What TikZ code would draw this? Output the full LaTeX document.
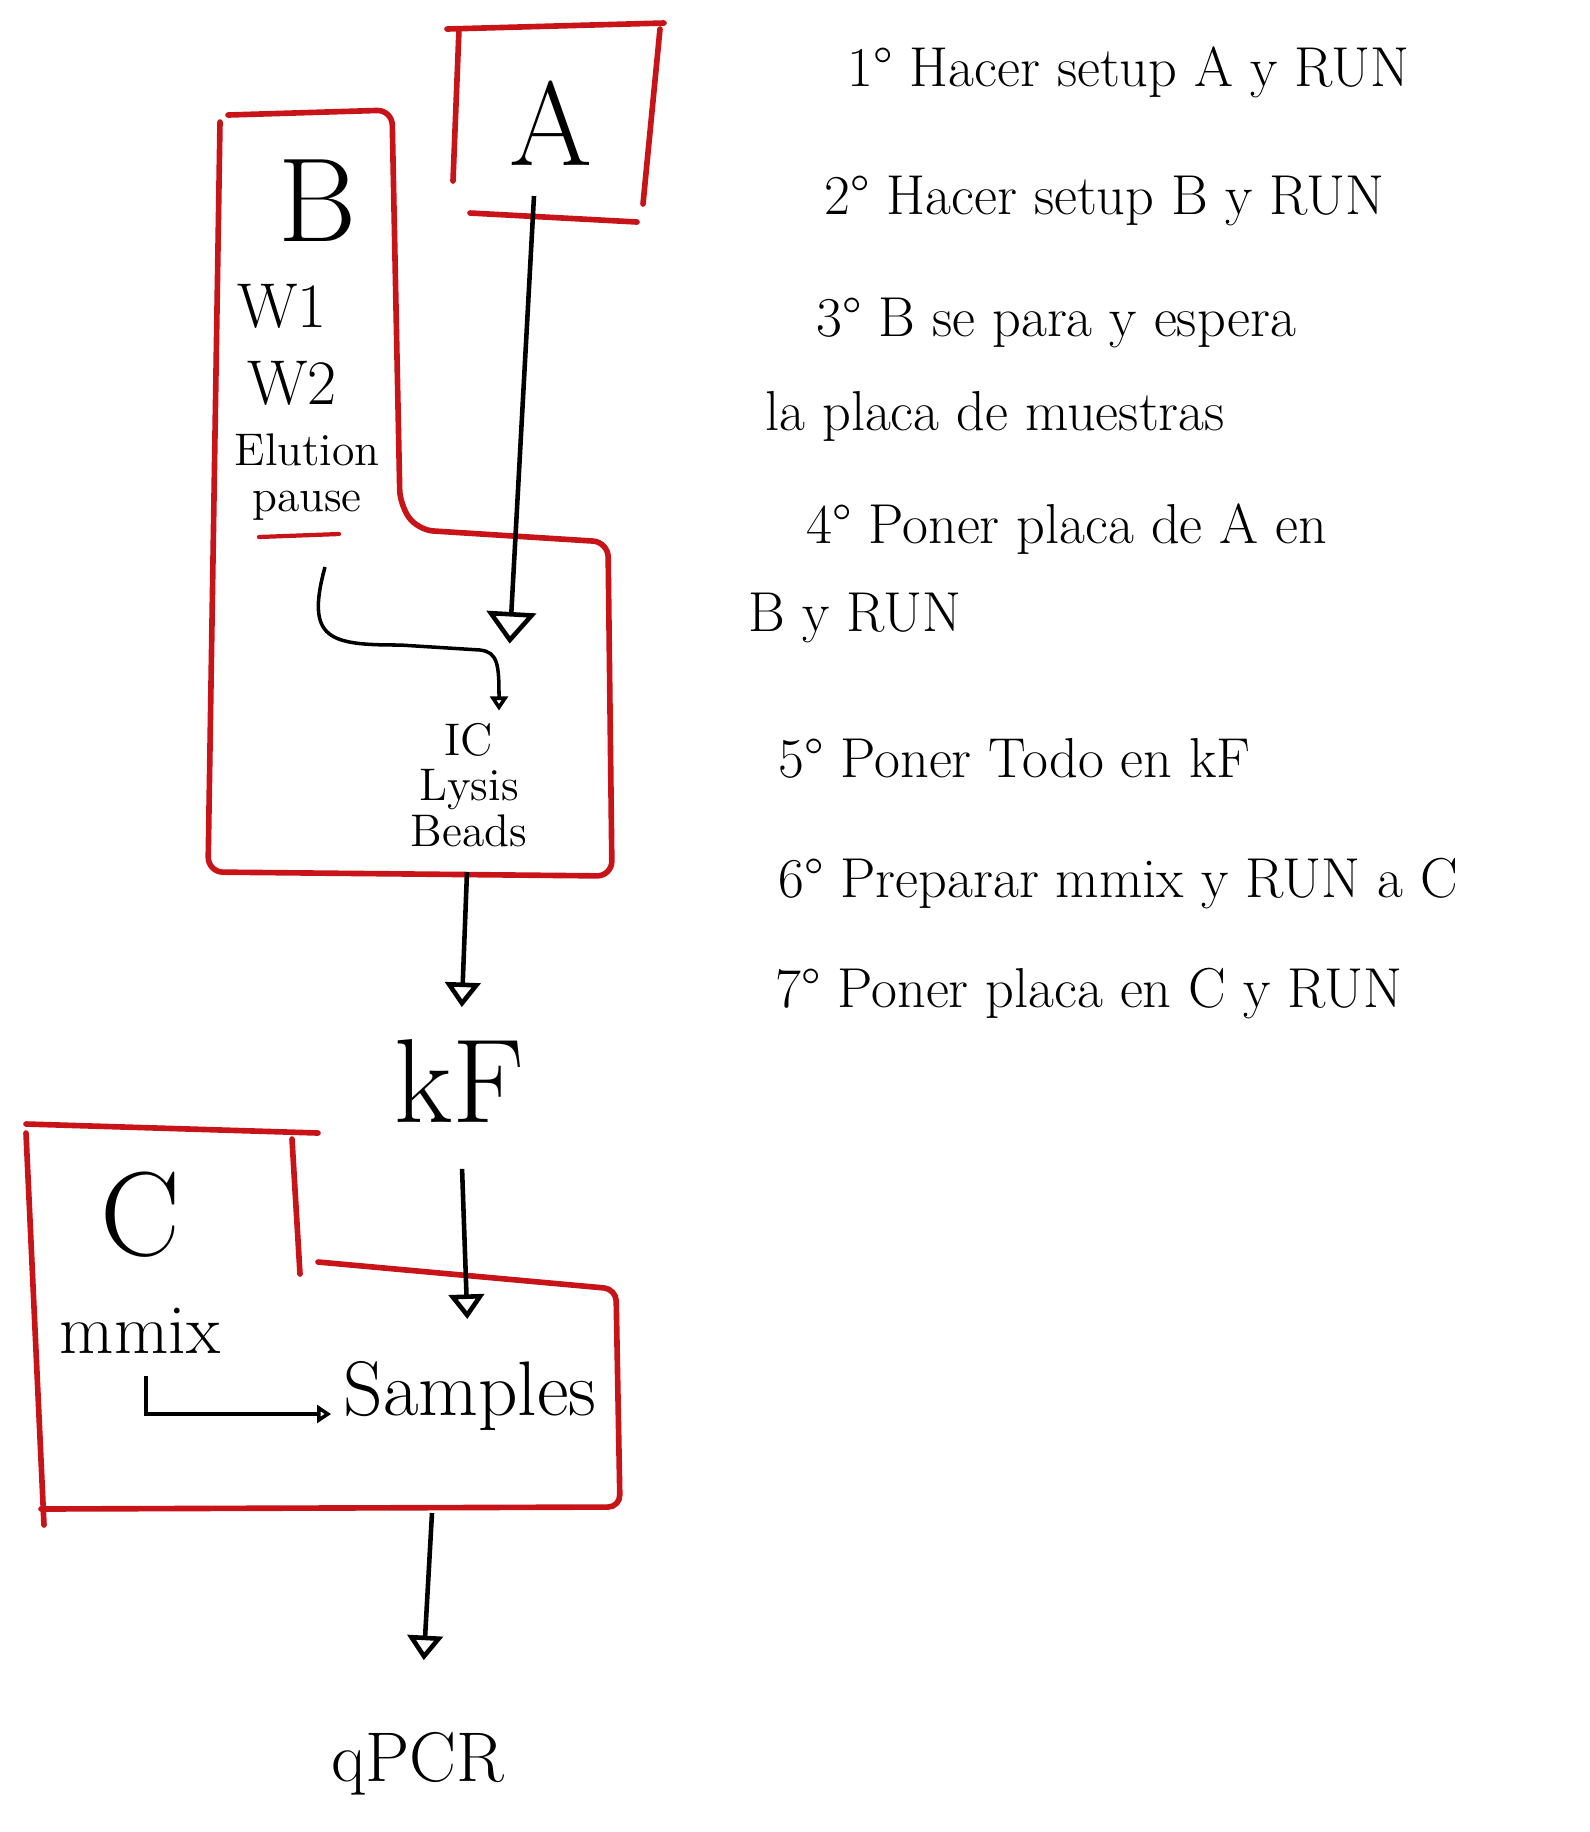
\documentclass[tikz,border=0pt]{standalone}
\usetikzlibrary{arrows.meta}
\definecolor{penred}{RGB}{200,20,25}

\begin{document}
\begin{tikzpicture}[
  x=0.01cm, y=-0.01cm,
  redline/.style={draw=penred, line width=1.6pt, line cap=round},
  flow/.style={line width=1.3pt, -{Triangle[open, length=7pt, width=10pt]}},
  bigflow/.style={line width=1.3pt, -{Triangle[open, length=9pt, width=14pt]}},
  tinyflow/.style={line width=1pt, -{Triangle[open, length=4pt, width=5pt]}},
  boxname/.style={font=\fontsize{34}{40}\selectfont},
  item/.style={font=\fontsize{18}{22}\selectfont},
  small/.style={font=\fontsize{13}{13}\selectfont},
  note/.style={anchor=base west, font=\fontsize{16}{19}\selectfont},
]
\useasboundingbox (0,0) rectangle (1590,1832);

% machine A
\draw[redline] (447,29) -- (664,23);
\draw[redline] (459,29) -- (453,181);
\draw[redline] (660,29) -- (643,204);
\draw[redline] (470,213) -- (637,222);
\node[boxname] (a) at (551,123) {A};

% machine B
\draw[redline, rounded corners=0.15cm] (228,115) -- (392,110) -- (400,505) -- (418,530) -- (608,542) -- (612,876) -- (208,872) -- (220,122);
\node[boxname] (b) at (318,201) {B};
\node[item] (w1) at (282,306) {W1};
\node[item] (w2) at (292,383) {W2};
\node[small] (elution) at (307,450) {Elution};
\node[small] (pause) at (307,506) {pause};
\draw[redline, line width=1.2pt] (259,537) -- (339,534);
\node[small, align=center] (plate) at (469,785) {IC\\Lysis\\Beads};

\coordinate (a-out) at (534,196);
\coordinate (pause-out) at (325,567);
\coordinate (b-out) at (467,872);
\draw[bigflow, shorten >=0.67cm] (a-out) -- ([xshift=0.37cm]plate.north);
\draw[tinyflow] (pause-out) .. controls (305,640) and (330,645) .. (400,645) -- (480,650) .. controls (498,652) and (499,665) .. ([xshift=0.3cm]plate.north);

% KingFisher
\node[boxname] (kf) at (459,1081) {kF};
\draw[flow, shorten >=0.2cm] (b-out) -- (kf);

% machine C
\draw[redline] (26,1124) -- (318,1133);
\draw[redline] (292,1139) -- (300,1274);
\draw[redline, rounded corners=0.12cm] (318,1262) -- (616,1289) -- (620,1507) -- (41,1509);
\draw[redline] (26,1133) -- (44,1525);
\node[boxname] (c) at (140,1215) {C};
\node[font=\fontsize{20}{24}\selectfont] (mmix) at (140,1331) {mmix};
\node[font=\fontsize{22}{26}\selectfont] (samples) at (470,1396) {Samples};
\draw[tinyflow, shorten <=0.1cm] ([xshift=0.06cm]mmix.south) |- ([yshift=-0.18cm]samples.west);
\draw[flow, shorten <=0.34cm, shorten >=0.3cm] (kf) -- (samples);

% qPCR
\coordinate (c-out) at (432,1513);
\node[font=\fontsize{20}{24}\selectfont] (qpcr) at (418,1764) {qPCR};
\draw[flow, shorten >=0.6cm] (c-out) -- (qpcr);

% steps
\node[note] (step1) at (835,86) {1° Hacer setup A y RUN};
\node[note] (step2) at (812,214) {2° Hacer setup B y RUN};
\node[note] (step3) at (804,336) {3° B se para y espera};
\node[note] (step3b) at (753,430) {la placa de muestras};
\node[note] (step4) at (794,543) {4° Poner placa de A en};
\node[note] (step4b) at (736,631) {B y RUN};
\node[note] (step5) at (766,777) {5° Poner Todo en kF};
\node[note] (step6) at (766,897) {6° Preparar mmix y RUN a C};
\node[note] (step7) at (763,1007) {7° Poner placa en C y RUN};
\end{tikzpicture}
\end{document}
